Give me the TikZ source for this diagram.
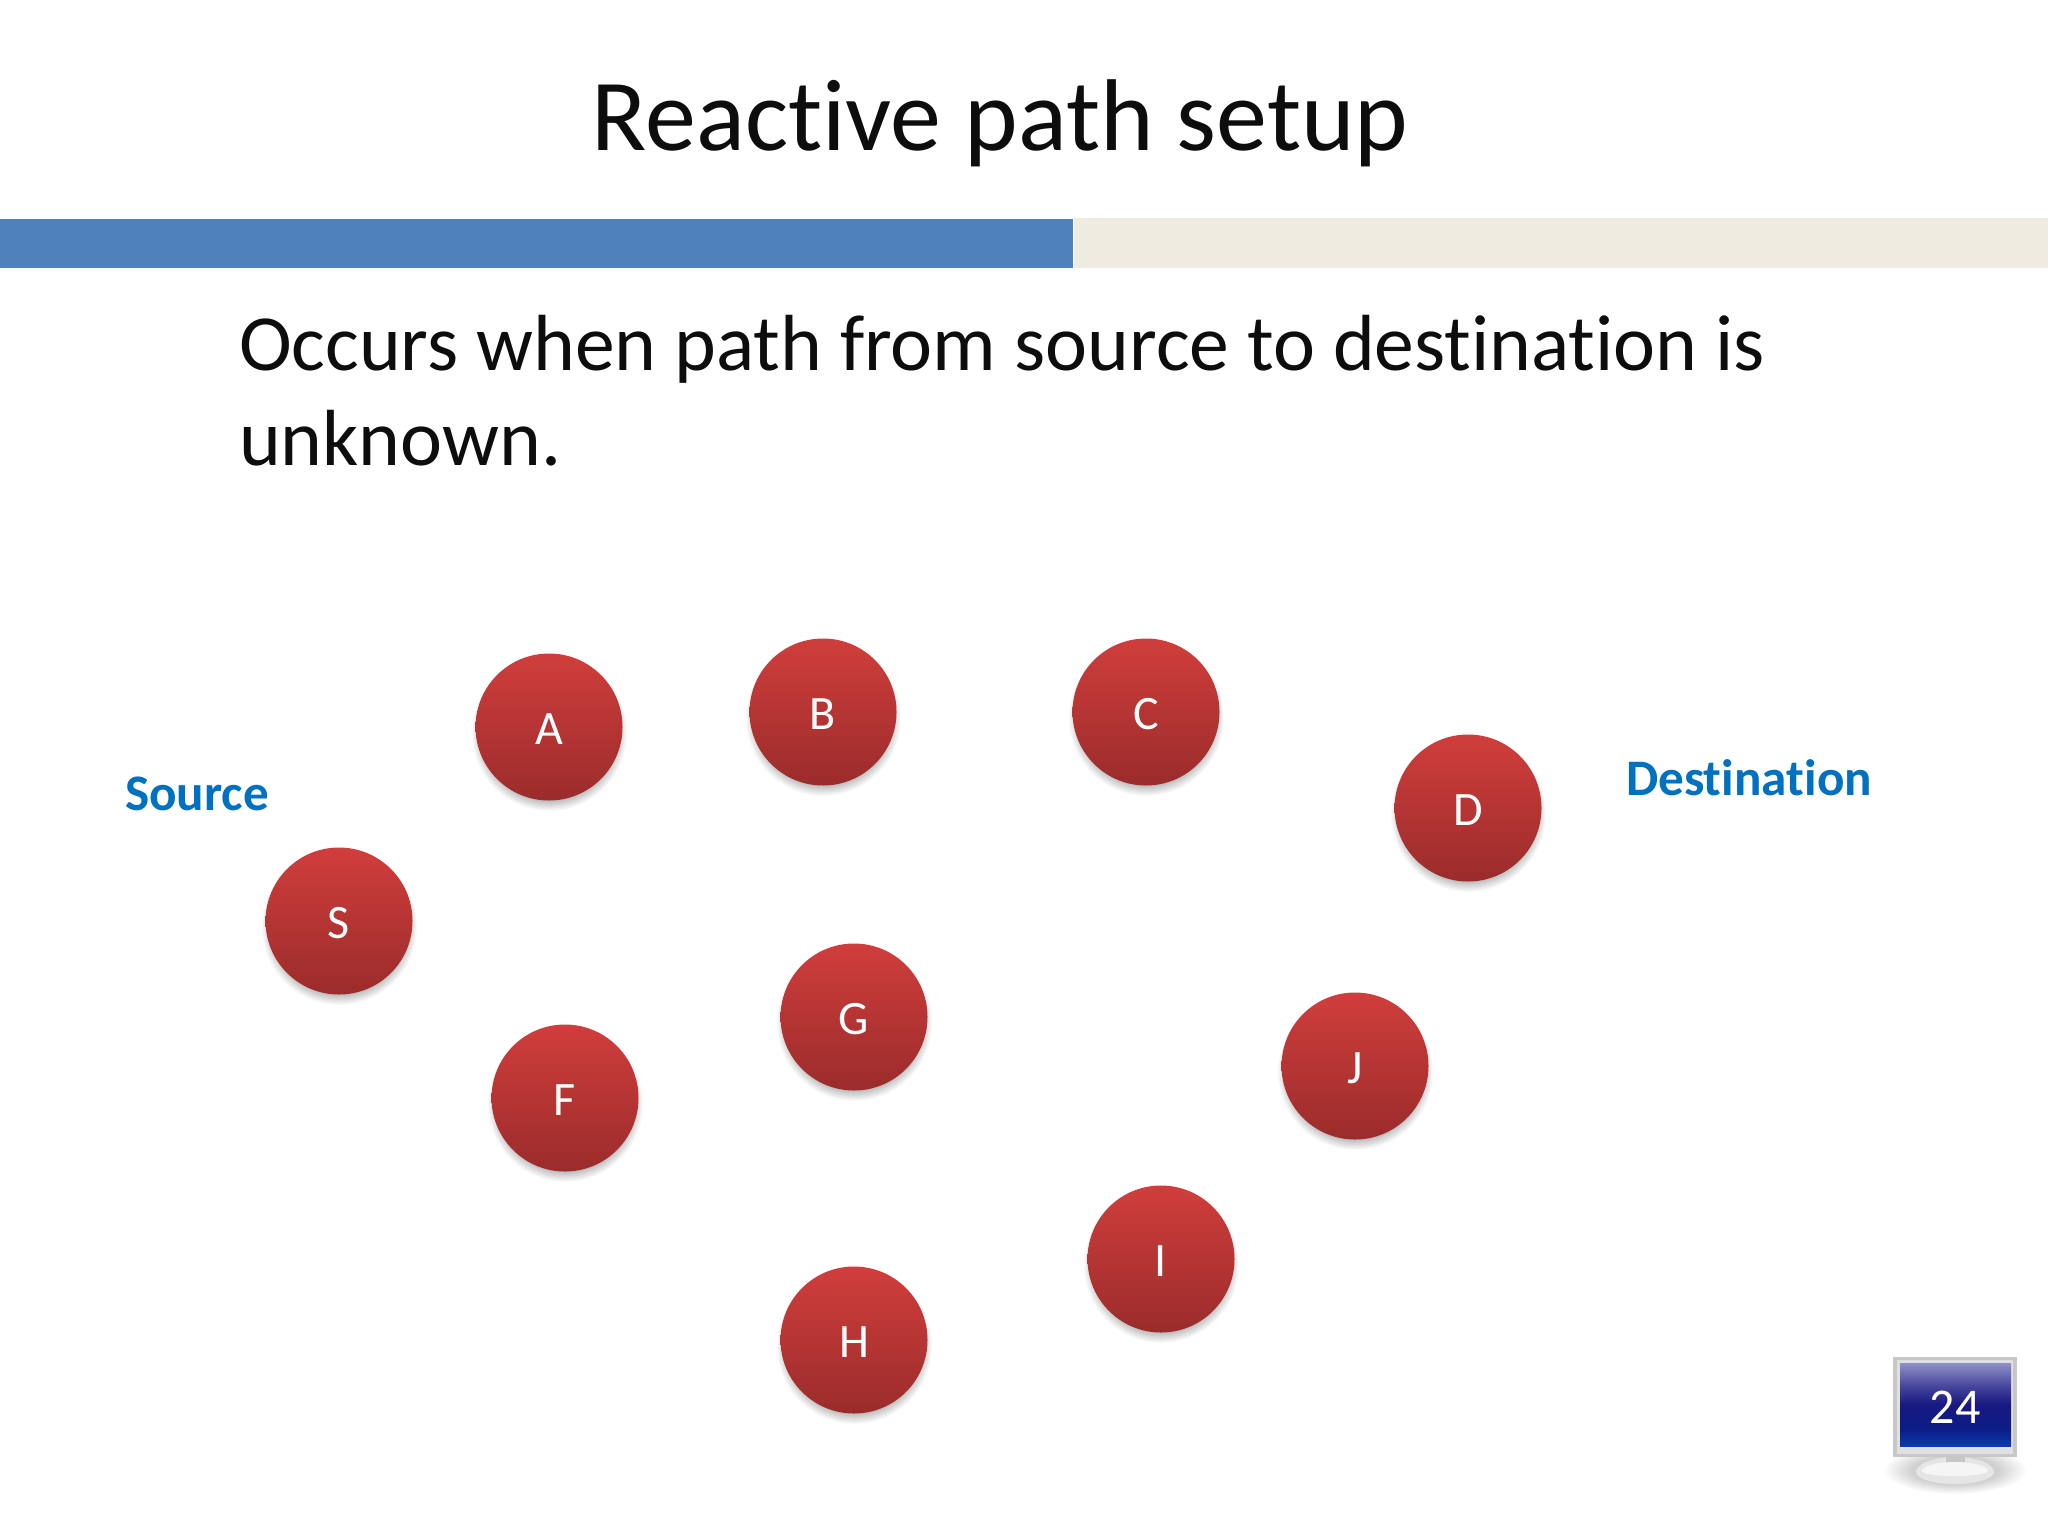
\documentclass[tikz,border=0pt]{standalone}
\usepackage{fontspec}
\setmainfont{Carlito}[Ligatures=NoCommon]
\definecolor{barblue}{HTML}{4F81BD}
\definecolor{barbeige}{HTML}{EEECE1}
\definecolor{labelblue}{HTML}{0070C0}
\definecolor{redtop}{HTML}{D03E3C}
\definecolor{redbot}{HTML}{9A2C2B}
\definecolor{scrA}{HTML}{9090C8}
\definecolor{scrB}{HTML}{4A4AA0}
\definecolor{scrC}{HTML}{181880}
\definecolor{scrD}{HTML}{0C1C88}
\definecolor{scrE}{HTML}{0A3CAC}
\pgfdeclareradialshading{softshadow}{\pgfpointorigin}{color(0bp)=(black!50); color(17bp)=(black!50); color(21bp)=(black!30); color(25bp)=(white); color(50bp)=(white)}
\pgfdeclareradialshading{standshadow}{\pgfpointorigin}{color(0bp)=(black!22); color(15bp)=(black!18); color(25bp)=(white); color(50bp)=(white)}
\pgfdeclareverticalshading{screenshade}{100bp}{color(0bp)=(scrE); color(25bp)=(scrE); color(35bp)=(scrD); color(50bp)=(scrC); color(62bp)=(scrB); color(75bp)=(scrA); color(100bp)=(scrA)}
\tikzset{
  px/.style={x=0.5pt,y=-0.5pt},
  routernode/.style={circle,minimum size=73.5pt,inner sep=0pt,top color=redtop,bottom color=redbot,text=white,font=\fontsize{24}{28}\selectfont},
  sidelabel/.style={text=labelblue,font=\fontsize{25.6}{30}\selectfont\bfseries},
  bodytext/.style={anchor=base west,font=\fontsize{39.8}{48}\selectfont,text=black!95},
}
\begin{document}
\begin{tikzpicture}[px]
\useasboundingbox (0,0) rectangle (2048,1536);
\fill[white] (0,0) rectangle (2048,1536);
\node[font=\fontsize{51}{60}\selectfont,text=black!95] (title) at (1000,123) {Reactive path setup};
\fill[barbeige] (1074,218) rectangle (2048,268);
\fill[barblue] (0,219) rectangle (1073,268);
\node[bodytext] (line1) at (232,370) {Occurs when path from source to destination is};
\node[bodytext] (line2) at (232,465) {unknown.};
\node[sidelabel] (source) at (197,794) {Source};
\node[sidelabel] (dest) at (1749,778) {Destination};
\foreach \n/\x/\y in {A/549/727,B/823/712,C/1146/712,D/1468/808,S/339/921,F/565/1098,G/854/1017,J/1355/1066,I/1161/1259,H/854/1340}{
  \node[circle,minimum size=78pt,inner sep=0pt,shading=softshadow] (\n shadow) at (\x,\y+6) {};
  \node[routernode] (\n) at (\x,\y) {\raisebox{-1.2pt}[\height][\depth]{\n}};
}
% monitor
\node[circle,minimum size=48pt,inner sep=0pt,shading=standshadow,xscale=1.5,yscale=.5] (monshadow) at (1955,1470) {};
\fill[black!10] (1916,1472) arc[start angle=180,end angle=360,x radius=39,y radius=15] arc[start angle=0,end angle=180,x radius=39,y radius=12] -- cycle;
\fill[black!22] (1946,1455) rectangle (1965,1473);
\fill[black!4] (1922,1471) arc[start angle=180,end angle=360,x radius=33,y radius=9] arc[start angle=0,end angle=180,x radius=33,y radius=5] -- cycle;
\fill[black!22] (1893,1357) rectangle (2017,1457);
\fill[black!12] (1897,1360) rectangle (2013,1454);
\shade[shading=screenshade] (1900,1363) rectangle (2011,1446);
\node[text=white,font=\fontsize{25}{30}\selectfont] (page) at (1955,1407) {24};
\end{tikzpicture}
\end{document}
